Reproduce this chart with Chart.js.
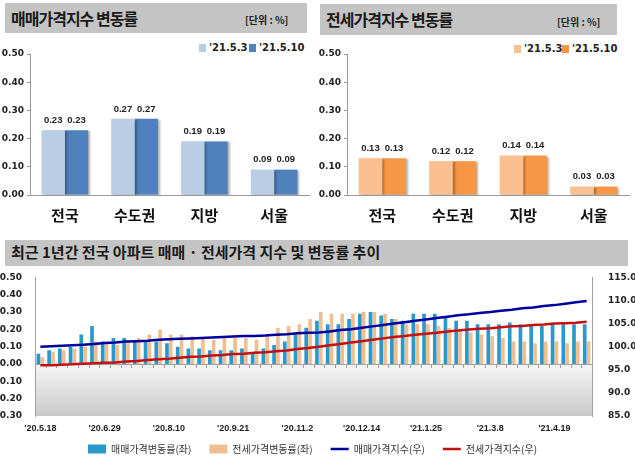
<!DOCTYPE html>
<html>
<head>
<meta charset="utf-8">
<script src="https://cdn.jsdelivr.net/npm/chart.js@4.4.0/dist/chart.umd.min.js"></script>
<style>
  body { margin: 0; width: 635px; height: 467px; position: relative; overflow: hidden; background: #fff;
         font-family: "Noto Sans CJK KR", sans-serif; }
  .band { position: absolute; background: #c4c4c4; }
  .band .ttl { position: absolute; left: 6px; font-weight: bold; color: #1a1a1a; white-space: nowrap; }
  .band .unit { position: absolute; font-size: 10px; font-weight: bold; color: #222; }
  canvas { position: absolute; }
  .lg { position: absolute; font: bold 10px "DejaVu Sans", sans-serif; color: #222; white-space: nowrap; }
  .lg i { display: inline-block; width: 7px; height: 8px; margin-right: 3px; vertical-align: -1px; }
</style>
</head>
<body>

<div class="band" style="left:5px;top:3px;width:302px;height:30px">
  <span class="ttl" style="top:3px;font-size:16px;letter-spacing:-1px">매매가격지수 변동률</span>
  <span class="unit" style="left:240px;top:9px">[단위 : %]</span>
</div>
<div class="band" style="left:320px;top:4px;width:297px;height:31px">
  <span class="ttl" style="top:3px;font-size:16px;letter-spacing:-1px">전세가격지수 변동률</span>
  <span class="unit" style="left:237px;top:10px">[단위 : %]</span>
</div>
<div class="band" style="left:5px;top:240px;width:623px;height:26px">
  <span class="ttl" style="top:1px;font-size:15px">최근 1년간 전국 아파트 매매 · 전세가격 지수 및 변동률 추이</span>
</div>

<div class="lg" style="left:199px;top:42px"><i style="background:#b9cde5"></i>'21.5.3</div>
<div class="lg" style="left:249px;top:42px"><i style="background:#4f81bd"></i>'21.5.10</div>
<div class="lg" style="left:514px;top:43px"><i style="background:#fac090"></i>'21.5.3</div>
<div class="lg" style="left:562px;top:43px"><i style="background:#f79646"></i>'21.5.10</div>

<canvas id="saleBar" width="315" height="192" style="left:0;top:39px"></canvas>
<canvas id="jeonseBar" width="318" height="192" style="left:317px;top:39px"></canvas>
<canvas id="trend" width="635" height="203" style="left:0;top:264px"></canvas>

<script>
// top charts
const regions = ["전국", "수도권", "지방", "서울"];
const saleRate0503 = [0.23, 0.27, 0.19, 0.09];
const saleRate0510 = [0.23, 0.27, 0.19, 0.09];
const jeonseRate0503 = [0.13, 0.12, 0.14, 0.03];
const jeonseRate0510 = [0.13, 0.12, 0.14, 0.03];

// bottom chart, weekly
const weeks = [
  "'20.5.18", "'20.5.25", "'20.6.1", "'20.6.8", "'20.6.15", "'20.6.22", "'20.6.29", "'20.7.6", "'20.7.13",
  "'20.7.20", "'20.7.27", "'20.8.3", "'20.8.10", "'20.8.17", "'20.8.24", "'20.8.31", "'20.9.7", "'20.9.14",
  "'20.9.21", "'20.9.28", "'20.10.5", "'20.10.12", "'20.10.19", "'20.10.26", "'20.11.2", "'20.11.9",
  "'20.11.16", "'20.11.23", "'20.11.30", "'20.12.7", "'20.12.14", "'20.12.21", "'20.12.28", "'21.1.4",
  "'21.1.11", "'21.1.18", "'21.1.25", "'21.2.1", "'21.2.8", "'21.2.15", "'21.2.22", "'21.3.1", "'21.3.8",
  "'21.3.15", "'21.3.22", "'21.3.29", "'21.4.5", "'21.4.12", "'21.4.19", "'21.4.26", "'21.5.3", "'21.5.10"
];
const saleWeekly = [
  0.06, 0.08, 0.09, 0.10, 0.17, 0.22, 0.13, 0.15, 0.15, 0.13, 0.13, 0.13, 0.12,
  0.10, 0.09, 0.09, 0.08, 0.08, 0.08, 0.09, 0.07, 0.09, 0.11, 0.13, 0.17, 0.21,
  0.25, 0.23, 0.23, 0.26, 0.29, 0.30, 0.28, 0.26, 0.25, 0.29, 0.29, 0.29, 0.27,
  0.25, 0.25, 0.23, 0.23, 0.23, 0.24, 0.23, 0.23, 0.22, 0.23, 0.23, 0.23, 0.23
];
const jeonseWeekly = [
  0.04, 0.07, 0.08, 0.09, 0.10, 0.13, 0.12, 0.11, 0.13, 0.15, 0.17, 0.20, 0.17,
  0.17, 0.16, 0.15, 0.14, 0.15, 0.15, 0.15, 0.14, 0.16, 0.21, 0.22, 0.23, 0.26,
  0.30, 0.29, 0.29, 0.29, 0.30, 0.30, 0.29, 0.26, 0.23, 0.23, 0.23, 0.22, 0.21,
  0.20, 0.18, 0.17, 0.16, 0.15, 0.13, 0.13, 0.12, 0.13, 0.13, 0.12, 0.13, 0.13
];
const saleIndex = [
  100.0, 100.1, 100.2, 100.3, 100.4, 100.6, 100.8, 100.9, 101.1, 101.2, 101.3, 101.5, 101.6,
  101.7, 101.8, 101.9, 102.0, 102.1, 102.2, 102.3, 102.3, 102.4, 102.6, 102.7, 102.9, 103.0,
  103.1, 103.3, 103.6, 103.8, 104.1, 104.4, 104.7, 105.0, 105.3, 105.6, 105.9, 106.2, 106.5,
  106.8, 107.0, 107.3, 107.5, 107.8, 108.0, 108.3, 108.5, 108.8, 109.0, 109.3, 109.6, 109.9
];
const jeonseIndex = [
  96.0, 96.0, 96.1, 96.2, 96.3, 96.4, 96.5, 96.6, 96.8, 96.9, 97.1, 97.3, 97.4,
  97.6, 97.8, 97.9, 98.1, 98.2, 98.4, 98.5, 98.7, 98.8, 99.0, 99.2, 99.5, 99.7,
  100.0, 100.3, 100.6, 100.9, 101.2, 101.5, 101.8, 102.1, 102.3, 102.6, 102.8, 103.0, 103.3,
  103.5, 103.7, 103.9, 104.0, 104.2, 104.4, 104.5, 104.7, 104.8, 105.0, 105.1, 105.2, 105.4
];

const tickFont = { family: "DejaVu Sans", size: 9, weight: "bold" };

// value labels above bars
const valueLabels = {
  id: "valueLabels",
  afterDatasetsDraw(chart) {
    const ctx = chart.ctx;
    ctx.save();
    ctx.font = "bold 9.5px 'Liberation Sans'";
    ctx.fillStyle = "#222";
    ctx.textAlign = "center";
    ctx.textBaseline = "bottom";
    chart.data.datasets.forEach((ds, i) => {
      chart.getDatasetMeta(i).data.forEach((bar, j) => {
        ctx.fillText(ds.data[j].toFixed(2), bar.x, bar.y - 5);
      });
    });
    ctx.restore();
  }
};

// soft shadow like the excel bars
const barShadow = {
  id: "barShadow",
  beforeDatasetDraw(chart) {
    const ctx = chart.ctx;
    ctx.save();
    ctx.shadowColor = "rgba(0,0,0,0.3)";
    ctx.shadowOffsetX = 2;
    ctx.shadowOffsetY = 1;
    ctx.shadowBlur = 2;
  },
  afterDatasetDraw(chart) {
    chart.ctx.restore();
  }
};

function regionChart(id, a, b, colA, colB) {
  return new Chart(document.getElementById(id), {
    type: "bar",
    data: {
      labels: regions,
      datasets: [
        { label: "'21.5.3", data: a, backgroundColor: colA },
        { label: "'21.5.10", data: b, backgroundColor: colB }
      ]
    },
    options: {
      responsive: false,
      animation: false,
      layout: { padding: { top: 15, right: 6, left: 0, bottom: 0 } },
      datasets: { bar: { categoryPercentage: 0.67, barPercentage: 1.0 } },
      plugins: { legend: { display: false }, tooltip: { enabled: false } },
      scales: {
        x: {
          grid: { display: false, drawTicks: false },
          border: { color: "#999" },
          ticks: { color: "#111", padding: 11, font: { family: "Noto Sans CJK KR", size: 15, weight: "bold" } },
          afterFit(s) { s.height = 36; }
        },
        y: {
          min: 0, max: 0.5,
          ticks: { stepSize: 0.1, color: "#222", padding: 3, font: tickFont,
                   callback: v => v.toFixed(2) },
          grid: { drawOnChartArea: false, drawTicks: true, tickLength: 3, color: "#999" },
          border: { color: "#999" },
          afterFit(s) { s.width = 30; }
        }
      }
    },
    plugins: [barShadow, valueLabels]
  });
}

regionChart("saleBar", saleRate0503, saleRate0510, "#b9cde5", "#4f81bd");
regionChart("jeonseBar", jeonseRate0503, jeonseRate0510, "#fac090", "#f79646");

// plot area fill: white on top fading to grey at the bottom
const plotFill = {
  id: "plotFill",
  beforeDraw(chart) {
    const { ctx, chartArea: a } = chart;
    const g = ctx.createLinearGradient(0, a.top, 0, a.bottom);
    g.addColorStop(0, "#ffffff");
    g.addColorStop(0.55, "#ffffff");
    g.addColorStop(1, "#c9c9c9");
    ctx.save();
    ctx.fillStyle = g;
    ctx.fillRect(a.left, a.top, a.right - a.left, a.bottom - a.top);
    ctx.restore();
  }
};

// category axis crosses at 0
const zeroAxis = {
  id: "zeroAxis",
  beforeDatasetsDraw(chart) {
    const { ctx, chartArea: a, scales } = chart;
    const y0 = scales.y.getPixelForValue(0);
    const step = (a.right - a.left) / weeks.length;
    ctx.save();
    ctx.strokeStyle = "#a0a0a0";
    ctx.lineWidth = 1;
    ctx.beginPath();
    ctx.moveTo(a.left, y0 + 0.5);
    ctx.lineTo(a.right, y0 + 0.5);
    for (let i = 0; i <= weeks.length; i++) {
      const x = Math.round(a.left + i * step) + 0.5;
      ctx.moveTo(x, y0);
      ctx.lineTo(x, y0 + 4);
    }
    ctx.stroke();
    ctx.restore();
  }
};

new Chart(document.getElementById("trend"), {
  data: {
    labels: weeks,
    datasets: [
      { type: "bar", label: "매매가격변동률(좌)", data: saleWeekly, backgroundColor: "#2a98c9", yAxisID: "y", order: 2 },
      { type: "bar", label: "전세가격변동률(좌)", data: jeonseWeekly, backgroundColor: "#efbf92", yAxisID: "y", order: 2 },
      { type: "line", label: "매매가격지수(우)", data: saleIndex, borderColor: "#00009c", backgroundColor: "#00009c",
        borderWidth: 2.5, pointRadius: 0, yAxisID: "y1", order: 1 },
      { type: "line", label: "전세가격지수(우)", data: jeonseIndex, borderColor: "#c41010", backgroundColor: "#c41010",
        borderWidth: 2.5, pointRadius: 0, yAxisID: "y1", order: 1 }
    ]
  },
  options: {
    responsive: false,
    animation: false,
    layout: { padding: { top: 3, right: 0, left: 0, bottom: 3 } },
    datasets: { bar: { categoryPercentage: 0.72, barPercentage: 0.95 } },
    plugins: {
      tooltip: { enabled: false },
      legend: {
        position: "bottom",
        labels: {
          color: "#333",
          font: { family: "Noto Sans CJK KR", size: 10 },
          usePointStyle: true,
          pointStyleWidth: 18,
          boxHeight: 9,
          padding: 8,
          sort: (a, b) => a.datasetIndex - b.datasetIndex,
          generateLabels(chart) {
            const items = Chart.defaults.plugins.legend.labels.generateLabels(chart);
            items.forEach(it => {
              it.pointStyle = chart.data.datasets[it.datasetIndex].type === "line" ? "line" : "rect";
              it.text += "\u2003";
            });
            return items;
          }
        }
      }
    },
    scales: {
      x: {
        grid: { display: false, drawTicks: false },
        border: { display: false },
        ticks: {
          autoSkip: false, maxRotation: 0, padding: 7, color: "#222",
          font: { family: "Liberation Sans", size: 9, weight: "bold" },
          callback: (v, i) => (i % 6 === 0 ? weeks[i] : "")
        },
        afterFit(s) { s.height = 20; }
      },
      y: {
        position: "left",
        min: -0.3, max: 0.5,
        ticks: { stepSize: 0.1, color: "#222", padding: 5, font: tickFont, callback: v => v.toFixed(2) },
        grid: { display: false },
        border: { color: "#a0a0a0" },
        afterFit(s) { s.width = 35; }
      },
      y1: {
        position: "right",
        min: 85, max: 115,
        ticks: { stepSize: 5, color: "#222", padding: 8, font: tickFont, callback: v => v.toFixed(1) },
        grid: { display: false },
        border: { color: "#a0a0a0" },
        afterFit(s) { s.width = 43; }
      }
    }
  },
  plugins: [plotFill, zeroAxis]
});
</script>
</body>
</html>
